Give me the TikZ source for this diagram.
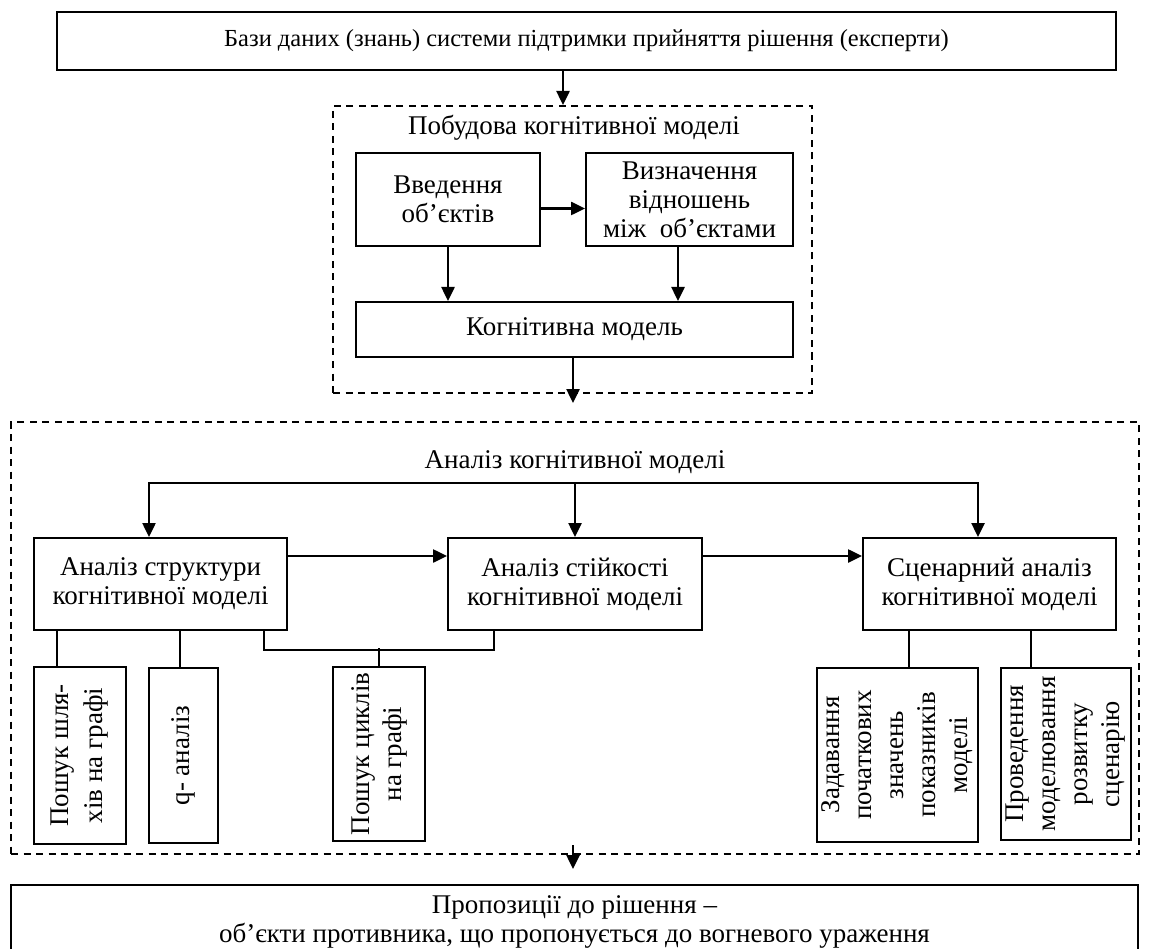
\documentclass[tikz,border=0pt]{standalone}
\usepackage{fontspec}
\setmainfont{Liberation Serif}
\usetikzlibrary{arrows.meta}

\begin{document}
\begin{tikzpicture}[x=1pt,y=-1pt,
  box/.style={draw,line width=2pt,inner sep=0pt,align=center,font=\fontsize{27}{29}\selectfont},
  vbox/.style={box,rotate=90,font=\fontsize{27}{32}\selectfont},
  frame/.style={draw,line width=2pt,dash pattern=on 7pt off 5.5pt,inner sep=0pt},
  lbl/.style={font=\fontsize{27}{29}\selectfont},
  arr/.style={line width=2.5pt,-{Triangle[length=14pt,width=13pt]}},
  ln/.style={line width=2pt}]
\useasboundingbox (0,0) rectangle (1172,949);
\clip (0,0) rectangle (1172,949);

\node[box,minimum width=1059pt,minimum height=58pt,font=\fontsize{24.5}{27}\selectfont] (db) at (586.5,41) {Бази даних (знань) системи підтримки прийняття рішення (експерти)};

\node[frame,minimum width=479pt,minimum height=287pt] (build) at (572.5,249.5) {};
\node[lbl] (buildlbl) at (574,128) {Побудова когнітивної моделі};
\node[box,minimum width=184pt,minimum height=93pt] (intro) at (448,199.5) {Введення\\об’єктів};
\node[box,minimum width=207pt,minimum height=93pt] (rel) at (689.5,199.5) {Визначення\\відношень\\між~~об’єктами};
\node[box,minimum width=437pt,minimum height=55pt] (model) at (574.5,329.5) {Когнітивна модель};

\node[frame,minimum width=1128pt,minimum height=432pt] (anl) at (575,638) {};
\node[lbl] (anllbl) at (575,462) {Аналіз когнітивної моделі};
\coordinate (split) at (574,483);
\node[box,minimum width=253pt,minimum height=92pt] (struct) at (160.5,584) {Аналіз структури\\когнітивної моделі};
\node[box,minimum width=254pt,minimum height=92pt] (stab) at (575,584) {Аналіз стійкості\\когнітивної моделі};
\node[box,minimum width=253pt,minimum height=92pt] (scen) at (989.5,584) {Сценарний аналіз\\когнітивної моделі};

\node[vbox,minimum width=177pt,minimum height=92pt,font=\fontsize{27}{34}\selectfont] (path) at (80,755.5) {Пошук шля-\\хів на графі};
\node[vbox,minimum width=175pt,minimum height=69pt] (qan) at (183.5,755.5) {q- аналіз};
\node[vbox,minimum width=174pt,minimum height=92pt] (cyc) at (379,754) {Пошук циклів\\на графі};
\node[vbox,minimum width=174pt,minimum height=161pt] (init) at (897.5,755) {Задавання\\початкових\\значень\\показників\\моделі};
\node[vbox,minimum width=172pt,minimum height=130pt] (sim) at (1066,754) {Проведення\\моделювання\\розвитку\\сценарію};

\node[box,minimum width=1127pt,minimum height=73pt] (prop) at (574.5,921.5) {Пропозиції до рішення –\\об’єкти противника, що пропонується до вогневого ураження};

\draw[arr] ([xshift=-23.5pt]db.south) -- ([xshift=-23.5pt]db.south |- build.north);
\draw[arr] ([yshift=-9pt]intro.east) -- ([yshift=-9pt]intro.east -| rel.west);
\draw[arr] (intro.south) -- (intro.south |- model.north);
\draw[arr] ([xshift=-11.5pt]rel.south) -- ([xshift=-11.5pt]rel.south |- model.north);
\draw[arr] ([xshift=-1.5pt]model.south) -- ([xshift=-1.5pt,yshift=-9pt]model.south |- build.south);

\draw[arr] (split) -| ([xshift=-11.5pt]struct.north);
\draw[arr] (split) -| ([xshift=-11.5pt]scen.north);
\draw[arr] (split -| stab.north) -- (stab.north);
\draw[arr] ([yshift=28pt]struct.east) -- ([yshift=28pt]stab.west);
\draw[arr] ([yshift=28pt]stab.east) -- ([yshift=28pt]scen.west);

\draw[ln] ([xshift=-23pt]path.east) -- ([xshift=-23pt]path.east |- struct.south);
\draw[ln] ([xshift=-3.5pt]qan.east) -- ([xshift=-3.5pt]qan.east |- struct.south);
\draw[ln] ([xshift=103.5pt]struct.south) -- ++(0,19) -| ([xshift=-81pt]stab.south);
\draw[ln] (cyc.east) -- ++(0,-18);
\draw[ln] ([xshift=11.5pt]init.east) -- ([xshift=11.5pt]init.east |- scen.south);
\draw[ln] ([xshift=-35pt]sim.east) -- ([xshift=-35pt]sim.east |- scen.south);

\draw[arr] ([xshift=-2pt,yshift=10pt]anl.south) -- ([xshift=-2pt,yshift=-14pt]anl.south);
\end{tikzpicture}
\end{document}
